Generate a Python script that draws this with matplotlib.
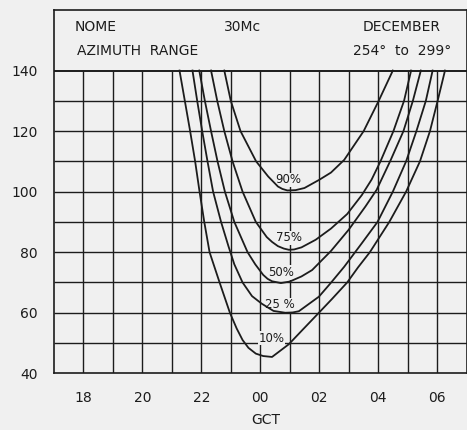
import matplotlib.pyplot as plt

# GCT hour (24 = 00, 26 = 02 ...) vs value
h90 = [22.78, 23.0, 23.33, 23.86, 24.27, 24.45, 24.6, 24.75, 24.92, 25.2, 25.5, 26.0, 26.4,
       26.85, 27.51, 28.02, 28.5]
v90 = [140, 130, 120, 110, 105, 103.2, 101.7, 100.9, 100.4, 100.5, 101.2, 103.9, 106.3,
       110.5, 120, 130, 140]

h75 = [22.33, 22.54, 22.78, 23.06, 23.4, 23.85, 24.22, 24.4, 24.6, 24.8, 24.97, 25.15, 25.4,
       25.88, 26.4, 26.95, 27.45, 27.78, 28.08, 28.52, 28.88, 29.12]
v75 = [140, 130, 120, 110, 100, 90, 85, 83.4, 82, 81.2, 80.8, 80.9, 81.6,
       84.1, 87.8, 92.6, 98.9, 104, 110, 120, 130, 140]

h50 = [21.93, 22.12, 22.33, 22.55, 22.8, 23.12, 23.57, 23.83, 24.1, 24.25, 24.4, 24.7, 25.0,
       25.4, 25.76, 26.4, 27.0, 27.57, 27.95, 28.43, 28.86, 29.18, 29.45]
v50 = [140, 130, 120, 110, 100, 90, 80, 76, 72.5, 71.2, 70.4, 69.8, 70.3,
       72, 74.1, 80.4, 87.4, 95.1, 100.6, 110.5, 120, 130, 140]

h25 = [21.7, 21.86, 22.03, 22.21, 22.4, 22.67, 22.92, 23.12, 23.4, 23.72, 24.05, 24.45,
       24.85, 25.1, 25.31, 25.99, 26.39, 26.85, 27.45, 27.98, 28.5, 28.95, 29.3, 29.62, 29.85]
v25 = [140, 130, 120, 110, 100, 90, 82, 76, 70, 65.5, 63, 60.6,
       60, 60.1, 60.5, 65.3, 69.8, 75.2, 83, 90, 100, 110, 120, 130, 140]

h10 = [21.26, 21.44, 21.62, 21.79, 21.94, 22.1, 22.28, 22.62, 22.97, 23.2, 23.4, 23.6, 23.85,
       24.1, 24.4, 24.97, 25.43, 25.99, 26.43, 26.95, 27.32, 27.72, 28.38, 28.95, 29.42,
       29.76, 30.02, 30.27]
v10 = [140, 130, 120, 110, 100, 90, 80, 70, 60, 54.8, 51, 48.4, 46.5,
       45.7, 45.4, 49.6, 54.3, 60, 64.5, 70, 75, 80, 90, 100, 110,
       120, 130, 140]

curves = [(h90, v90), (h75, v75), (h50, v50), (h25, v25), (h10, v10)]
curve_labels = ["90%", "75%", "50%", "25 %", "10%"]
label_pos = [(24.96, 103.9), (24.97, 84.7), (24.71, 73.3), (24.68, 62.6), (24.38, 51.6)]

xticks = [18, 20, 22, 24, 26, 28, 30]
xticklabels = ["18", "20", "22", "00", "02", "04", "06"]
yticks = [40, 60, 80, 100, 120, 140]

bg = "#f0f0f0"
ink = "#1c1c1c"

fig = plt.figure(figsize=(4.67, 4.30), dpi=100, facecolor=bg)
ax = fig.add_axes([54 / 467, 56.7 / 430, 412.5 / 467, 363.3 / 430], facecolor=bg)
ax.set_xlim(17, 31)
ax.set_ylim(40, 160)

# grid only below the header box
ax.vlines(range(18, 31), 40, 140, color=ink, lw=1.0, zorder=1)
ax.hlines(range(50, 140, 10), 17, 31, color=ink, lw=1.0, zorder=1)
ax.hlines(140, 17, 31, color=ink, lw=1.4, zorder=1)

for h, v in curves:
    ax.plot(h, v, color=ink, lw=1.3, zorder=4, solid_joinstyle="round")

for txt, (x, y) in zip(curve_labels, label_pos):
    ax.text(x, y, txt, ha="center", va="center", fontsize=8.5, color=ink, zorder=3,
            bbox=dict(facecolor=bg, edgecolor="none", pad=0.5))

for s in ax.spines.values():
    s.set_color(ink)
    s.set_linewidth(1.2)

ax.set_xticks(xticks)
ax.set_xticklabels(xticklabels)
ax.set_yticks(yticks)
ax.tick_params(length=0, labelsize=10, colors=ink)
ax.tick_params(axis="x", pad=13)
ax.tick_params(axis="y", pad=12)

# header text
ax.text(17.71, 154.5, "NOME", ha="left", va="center", fontsize=10, color=ink)
ax.text(23.39, 154.5, "30Mc", ha="center", va="center", fontsize=10, color=ink)
ax.text(30.11, 154.5, "DECEMBER", ha="right", va="center", fontsize=10, color=ink)
ax.text(17.78, 146.6, "AZIMUTH  RANGE", ha="left", va="center", fontsize=10, color=ink)
ax.text(30.48, 146.6, "254°  to  299°", ha="right", va="center", fontsize=10, color=ink)

fig.text(266 / 467, 1 - 420 / 430, "GCT", ha="center", va="center", fontsize=10, color=ink)

fig.savefig("out.png", dpi=100, facecolor=bg)
